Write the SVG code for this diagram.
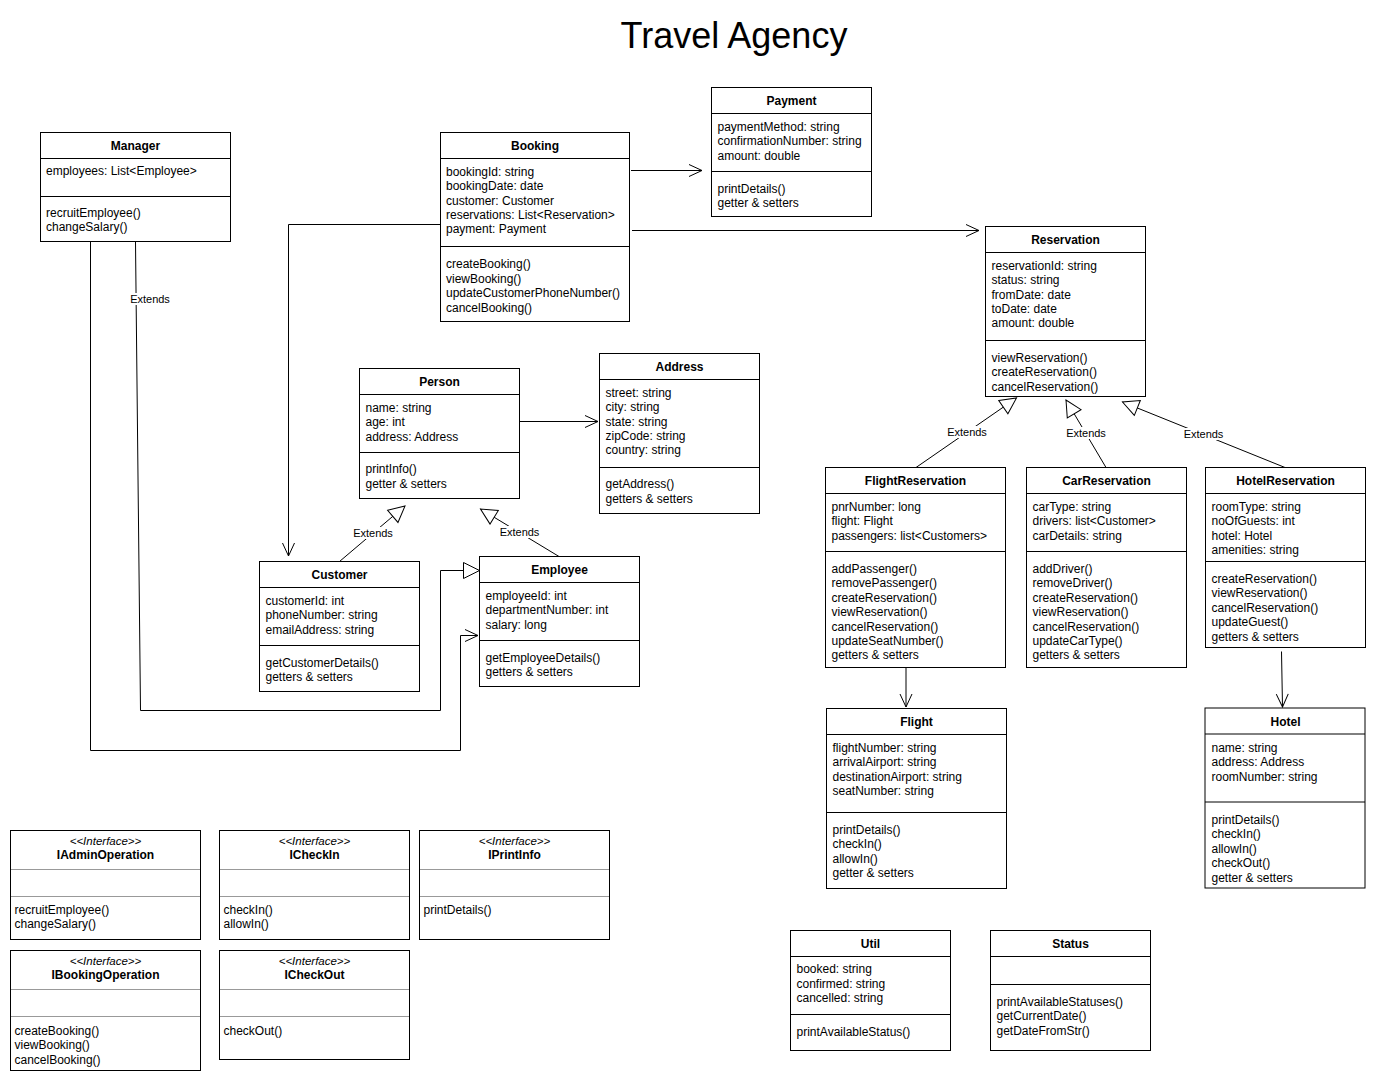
<svg xmlns="http://www.w3.org/2000/svg" width="1376" height="1081" viewBox="0 0 1376 1081">
<style>
.bx{fill:#fff;stroke:#000;stroke-width:1}
.ln{stroke:#000;stroke-width:1;fill:none}
.gl{stroke:#999;stroke-width:1;fill:none}
text{font-family:"Liberation Sans",Arial,Helvetica,sans-serif;font-size:12px;fill:#000}
.h{font-weight:bold;text-anchor:middle}
.st{font-style:italic;font-size:11.5px;text-anchor:middle}
.lb{font-size:11px;text-anchor:middle}
.lbg{fill:#fff;stroke:none}
.title{font-size:36px;text-anchor:middle}
</style>
<defs>
<marker id="open" markerUnits="userSpaceOnUse" viewBox="0 0 16 16" markerWidth="16" markerHeight="16" refX="14" refY="8" orient="auto">
<path d="M1,2 L14,8 L1,14" fill="none" stroke="#000" stroke-width="1"/>
</marker>
<marker id="tri" markerUnits="userSpaceOnUse" viewBox="0 0 20 20" markerWidth="20" markerHeight="20" refX="18" refY="10" orient="auto">
<path d="M2,2 L18,10 L2,18 Z" fill="#fff" stroke="#000" stroke-width="1"/>
</marker>
</defs>
<rect width="1376" height="1081" fill="#fff"/>
<text class="title" x="734" y="48">Travel Agency</text>

<g id="connectors">
<path class="ln" d="M631,170.5 H702" marker-end="url(#open)"/>
<path class="ln" d="M632,230.5 H979" marker-end="url(#open)"/>
<path class="ln" d="M440,224.5 H288.5 V556" marker-end="url(#open)"/>
<path class="ln" d="M519.5,421.5 H598" marker-end="url(#open)"/>
<path class="ln" d="M339.5,561.5 L405,506" marker-end="url(#tri)"/>
<path class="ln" d="M559,556.5 L480.5,509" marker-end="url(#tri)"/>
<path class="ln" d="M135.5,241.5 L140.5,710.5 H440.5 V570.5 H479.5" marker-end="url(#tri)"/>
<path class="ln" d="M90.5,241.5 V750.5 H460.5 V635.5 H478" marker-end="url(#open)"/>
<path class="ln" d="M916,467.5 L1016.5,398" marker-end="url(#tri)"/>
<path class="ln" d="M1106,467.5 L1066,400" marker-end="url(#tri)"/>
<path class="ln" d="M1285,467.5 L1122.5,402" marker-end="url(#tri)"/>
<path class="ln" d="M906,667.5 V707" marker-end="url(#open)"/>
<path class="ln" d="M1281.5,651.5 L1282.5,707" marker-end="url(#open)"/>
<rect class="lbg" x="130" y="293" width="40" height="12"/>
<text class="lb" x="150" y="303">Extends</text>
<rect class="lbg" x="353" y="527" width="40" height="12"/>
<text class="lb" x="373" y="537">Extends</text>
<rect class="lbg" x="499" y="526" width="40" height="12"/>
<text class="lb" x="519.5" y="536">Extends</text>
<rect class="lbg" x="947" y="426" width="40" height="12"/>
<text class="lb" x="967" y="436">Extends</text>
<rect class="lbg" x="1066" y="427" width="40" height="12"/>
<text class="lb" x="1086" y="436.5">Extends</text>
<rect class="lbg" x="1183" y="428" width="40" height="12"/>
<text class="lb" x="1203.5" y="438">Extends</text>
</g>

<g id="Manager">
<rect class="bx" x="40.5" y="132.5" width="190" height="109"/>
<path class="ln" d="M40.5,158.5 H230.5 M40.5,196.5 H230.5"/>
<text class="h" x="135.5" y="150">Manager</text>
<text x="46" y="174.7">employees: List&lt;Employee&gt;</text>
<text x="46" y="217">recruitEmployee()</text>
<text x="46" y="231.4">changeSalary()</text>
</g>

<g id="Booking">
<rect class="bx" x="440.5" y="132.5" width="189" height="189"/>
<path class="ln" d="M440.5,158.5 H629.5 M440.5,246.5 H629.5"/>
<text class="h" x="535" y="150">Booking</text>
<text x="446" y="175.7">bookingId: string</text>
<text x="446" y="190.1">bookingDate: date</text>
<text x="446" y="204.5">customer: Customer</text>
<text x="446" y="218.9">reservations: List&lt;Reservation&gt;</text>
<text x="446" y="233.3">payment: Payment</text>
<text x="446" y="268.3">createBooking()</text>
<text x="446" y="282.7">viewBooking()</text>
<text x="446" y="297.1">updateCustomerPhoneNumber()</text>
<text x="446" y="311.5">cancelBooking()</text>
</g>

<g id="Payment">
<rect class="bx" x="711.5" y="87.5" width="160" height="129"/>
<path class="ln" d="M711.5,113.5 H871.5 M711.5,171.5 H871.5"/>
<text class="h" x="791.5" y="104.5">Payment</text>
<text x="717.5" y="130.7">paymentMethod: string</text>
<text x="717.5" y="145.1">confirmationNumber: string</text>
<text x="717.5" y="159.5">amount: double</text>
<text x="717.5" y="192.7">printDetails()</text>
<text x="717.5" y="207.1">getter &amp; setters</text>
</g>

<g id="Reservation">
<rect class="bx" x="985.5" y="226.5" width="160" height="170"/>
<path class="ln" d="M985.5,252.5 H1145.5 M985.5,340.5 H1145.5"/>
<text class="h" x="1065.5" y="244">Reservation</text>
<text x="991.5" y="269.7">reservationId: string</text>
<text x="991.5" y="284.1">status: string</text>
<text x="991.5" y="298.5">fromDate: date</text>
<text x="991.5" y="312.9">toDate: date</text>
<text x="991.5" y="327.3">amount: double</text>
<text x="991.5" y="361.7">viewReservation()</text>
<text x="991.5" y="376.1">createReservation()</text>
<text x="991.5" y="390.5">cancelReservation()</text>
</g>

<g id="Person">
<rect class="bx" x="359.5" y="368.5" width="160" height="130"/>
<path class="ln" d="M359.5,394.5 H519.5 M359.5,452.5 H519.5"/>
<text class="h" x="439.5" y="386">Person</text>
<text x="365.5" y="411.7">name: string</text>
<text x="365.5" y="426.1">age: int</text>
<text x="365.5" y="440.5">address: Address</text>
<text x="365.5" y="473.3">printInfo()</text>
<text x="365.5" y="487.7">getter &amp; setters</text>
</g>

<g id="Address">
<rect class="bx" x="599.5" y="353.5" width="160" height="160"/>
<path class="ln" d="M599.5,379.5 H759.5 M599.5,467.5 H759.5"/>
<text class="h" x="679.5" y="371">Address</text>
<text x="605.5" y="396.7">street: string</text>
<text x="605.5" y="411.1">city: string</text>
<text x="605.5" y="425.5">state: string</text>
<text x="605.5" y="439.9">zipCode: string</text>
<text x="605.5" y="454.3">country: string</text>
<text x="605.5" y="488.3">getAddress()</text>
<text x="605.5" y="502.7">getters &amp; setters</text>
</g>

<g id="Customer">
<rect class="bx" x="259.5" y="561.5" width="160" height="130"/>
<path class="ln" d="M259.5,587.5 H419.5 M259.5,645.5 H419.5"/>
<text class="h" x="339.5" y="579">Customer</text>
<text x="265.5" y="604.7">customerId: int</text>
<text x="265.5" y="619.1">phoneNumber: string</text>
<text x="265.5" y="633.5">emailAddress: string</text>
<text x="265.5" y="666.7">getCustomerDetails()</text>
<text x="265.5" y="681.1">getters &amp; setters</text>
</g>

<g id="Employee">
<rect class="bx" x="479.5" y="556.5" width="160" height="130"/>
<path class="ln" d="M479.5,582.5 H639.5 M479.5,640.5 H639.5"/>
<text class="h" x="559.5" y="574">Employee</text>
<text x="485.5" y="599.7">employeeId: int</text>
<text x="485.5" y="614.1">departmentNumber: int</text>
<text x="485.5" y="628.5">salary: long</text>
<text x="485.5" y="661.7">getEmployeeDetails()</text>
<text x="485.5" y="676.1">getters &amp; setters</text>
</g>

<g id="FlightReservation">
<rect class="bx" x="825.5" y="467.5" width="180" height="200"/>
<path class="ln" d="M825.5,493.5 H1005.5 M825.5,551.5 H1005.5"/>
<text class="h" x="915.5" y="485">FlightReservation</text>
<text x="831.5" y="510.7">pnrNumber: long</text>
<text x="831.5" y="525.1">flight: Flight</text>
<text x="831.5" y="539.5">passengers: list&lt;Customers&gt;</text>
<text x="831.5" y="573">addPassenger()</text>
<text x="831.5" y="587.4">removePassenger()</text>
<text x="831.5" y="601.8">createReservation()</text>
<text x="831.5" y="616.2">viewReservation()</text>
<text x="831.5" y="630.6">cancelReservation()</text>
<text x="831.5" y="645">updateSeatNumber()</text>
<text x="831.5" y="659.4">getters &amp; setters</text>
</g>

<g id="CarReservation">
<rect class="bx" x="1026.5" y="467.5" width="160" height="200"/>
<path class="ln" d="M1026.5,493.5 H1186.5 M1026.5,551.5 H1186.5"/>
<text class="h" x="1106.5" y="485">CarReservation</text>
<text x="1032.5" y="510.7">carType: string</text>
<text x="1032.5" y="525.1">drivers: list&lt;Customer&gt;</text>
<text x="1032.5" y="539.5">carDetails: string</text>
<text x="1032.5" y="573">addDriver()</text>
<text x="1032.5" y="587.4">removeDriver()</text>
<text x="1032.5" y="601.8">createReservation()</text>
<text x="1032.5" y="616.2">viewReservation()</text>
<text x="1032.5" y="630.6">cancelReservation()</text>
<text x="1032.5" y="645">updateCarType()</text>
<text x="1032.5" y="659.4">getters &amp; setters</text>
</g>

<g id="HotelReservation">
<rect class="bx" x="1205.5" y="467.5" width="160" height="180"/>
<path class="ln" d="M1205.5,493.5 H1365.5 M1205.5,561.5 H1365.5"/>
<text class="h" x="1285.5" y="485">HotelReservation</text>
<text x="1211.5" y="510.7">roomType: string</text>
<text x="1211.5" y="525.1">noOfGuests: int</text>
<text x="1211.5" y="539.5">hotel: Hotel</text>
<text x="1211.5" y="553.9">amenities: string</text>
<text x="1211.5" y="583">createReservation()</text>
<text x="1211.5" y="597.4">viewReservation()</text>
<text x="1211.5" y="611.8">cancelReservation()</text>
<text x="1211.5" y="626.2">updateGuest()</text>
<text x="1211.5" y="640.6">getters &amp; setters</text>
</g>

<g id="Flight">
<rect class="bx" x="826.5" y="708.5" width="180" height="180"/>
<path class="ln" d="M826.5,734.5 H1006.5 M826.5,812.5 H1006.5"/>
<text class="h" x="916.5" y="726">Flight</text>
<text x="832.5" y="751.7">flightNumber: string</text>
<text x="832.5" y="766.1">arrivalAirport: string</text>
<text x="832.5" y="780.5">destinationAirport: string</text>
<text x="832.5" y="794.9">seatNumber: string</text>
<text x="832.5" y="834">printDetails()</text>
<text x="832.5" y="848.4">checkIn()</text>
<text x="832.5" y="862.8">allowIn()</text>
<text x="832.5" y="877.2">getter &amp; setters</text>
</g>

<g id="Hotel">
<rect class="bx" x="1205" y="708" width="160" height="180"/>
<path class="ln" d="M1205,734 H1365 M1205,802 H1365"/>
<text class="h" x="1285.5" y="726">Hotel</text>
<text x="1211.5" y="751.7">name: string</text>
<text x="1211.5" y="766.1">address: Address</text>
<text x="1211.5" y="780.5">roomNumber: string</text>
<text x="1211.5" y="824">printDetails()</text>
<text x="1211.5" y="838.4">checkIn()</text>
<text x="1211.5" y="852.8">allowIn()</text>
<text x="1211.5" y="867.2">checkOut()</text>
<text x="1211.5" y="881.6">getter &amp; setters</text>
</g>

<g id="Util">
<rect class="bx" x="790.5" y="930.5" width="160" height="120"/>
<path class="ln" d="M790.5,956.5 H950.5 M790.5,1014.5 H950.5"/>
<text class="h" x="870.5" y="948">Util</text>
<text x="796.5" y="973.3">booked: string</text>
<text x="796.5" y="987.7">confirmed: string</text>
<text x="796.5" y="1002.1">cancelled: string</text>
<text x="796.5" y="1035.7">printAvailableStatus()</text>
</g>

<g id="Status">
<rect class="bx" x="990.5" y="930.5" width="160" height="120"/>
<path class="ln" d="M990.5,956.5 H1150.5 M990.5,984.5 H1150.5"/>
<text class="h" x="1070.5" y="948">Status</text>
<text x="996.5" y="1005.7">printAvailableStatuses()</text>
<text x="996.5" y="1020.1">getCurrentDate()</text>
<text x="996.5" y="1034.5">getDateFromStr()</text>
</g>

<g id="IAdminOperation">
<rect class="bx" x="10.5" y="830.5" width="190" height="109"/>
<path class="gl" d="M11,869.5 H200 M11,896.5 H200"/>
<text class="st" x="105.5" y="844.5">&lt;&lt;Interface&gt;&gt;</text>
<text class="h" x="105.5" y="859">IAdminOperation</text>
<text x="14.5" y="914">recruitEmployee()</text>
<text x="14.5" y="928.4">changeSalary()</text>
</g>

<g id="ICheckIn">
<rect class="bx" x="219.5" y="830.5" width="190" height="109"/>
<path class="gl" d="M220,869.5 H409 M220,896.5 H409"/>
<text class="st" x="314.5" y="844.5">&lt;&lt;Interface&gt;&gt;</text>
<text class="h" x="314.5" y="859">ICheckIn</text>
<text x="223.5" y="914">checkIn()</text>
<text x="223.5" y="928.4">allowIn()</text>
</g>

<g id="IPrintInfo">
<rect class="bx" x="419.5" y="830.5" width="190" height="109"/>
<path class="gl" d="M420,869.5 H609 M420,896.5 H609"/>
<text class="st" x="514.5" y="844.5">&lt;&lt;Interface&gt;&gt;</text>
<text class="h" x="514.5" y="859">IPrintInfo</text>
<text x="423.5" y="914">printDetails()</text>
</g>

<g id="IBookingOperation">
<rect class="bx" x="10.5" y="950.5" width="190" height="120"/>
<path class="gl" d="M11,989.5 H200 M11,1016.5 H200"/>
<text class="st" x="105.5" y="964.5">&lt;&lt;Interface&gt;&gt;</text>
<text class="h" x="105.5" y="979">IBookingOperation</text>
<text x="14.5" y="1035">createBooking()</text>
<text x="14.5" y="1049.4">viewBooking()</text>
<text x="14.5" y="1063.8">cancelBooking()</text>
</g>

<g id="ICheckOut">
<rect class="bx" x="219.5" y="950.5" width="190" height="109"/>
<path class="gl" d="M220,989.5 H409 M220,1016.5 H409"/>
<text class="st" x="314.5" y="964.5">&lt;&lt;Interface&gt;&gt;</text>
<text class="h" x="314.5" y="979">ICheckOut</text>
<text x="223.5" y="1034.7">checkOut()</text>
</g>
</svg>
